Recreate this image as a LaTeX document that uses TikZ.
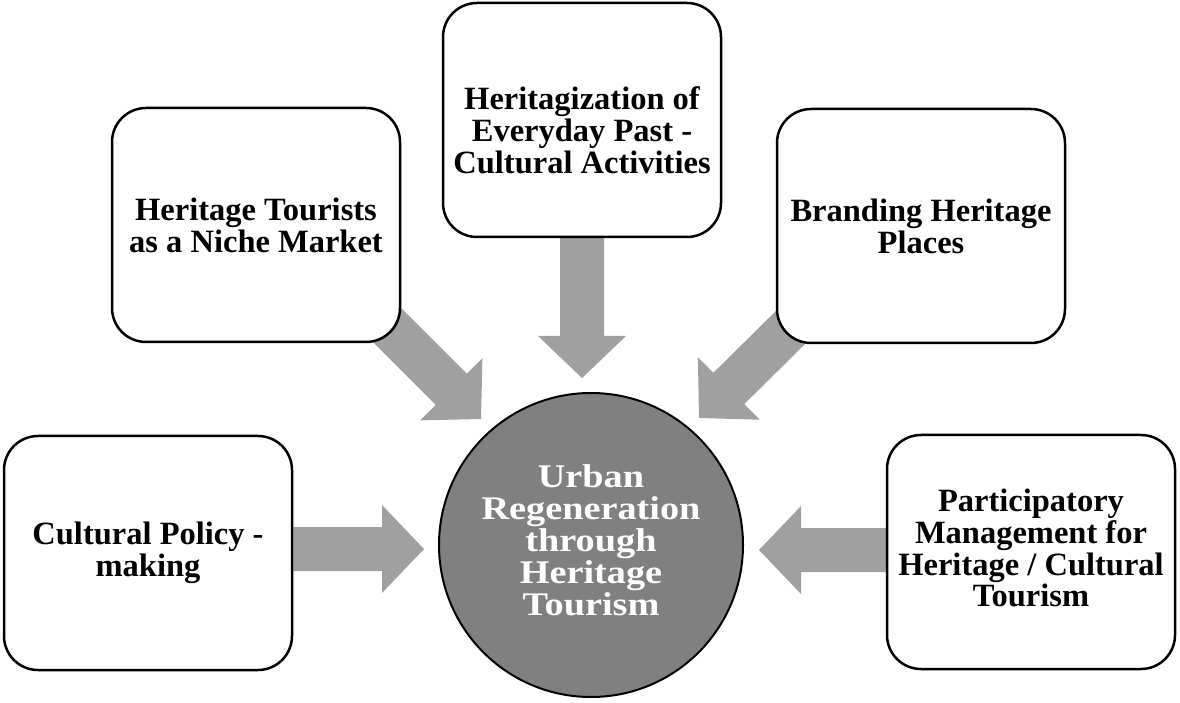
\documentclass[tikz,border=0pt]{standalone}
\usepackage{fontspec}
\setmainfont{Liberation Serif}
\newfontfamily\circfont{Liberation Serif}[FakeStretch=1.16]
\usetikzlibrary{calc}
\pgfdeclarelayer{background}
\pgfsetlayers{background,main}
\definecolor{arrowgray}{RGB}{160,160,160}
\definecolor{hubgray}{RGB}{128,128,128}
\newcommand\blockarrow[2]{%
  \coordinate (ba-h) at ($(#2)!42pt!(#1)$);
  \fill[arrowgray] (#2) -- ($(ba-h)!44pt!90:(#2)$) -- ($(ba-h)!22pt!90:(#2)$)
    -- ($(#1)!22pt!90:(#2)$) -- ($(#1)!22pt!-90:(#2)$)
    -- ($(ba-h)!22pt!-90:(#2)$) -- ($(ba-h)!44pt!-90:(#2)$) -- cycle;}
\begin{document}
\begin{tikzpicture}[x=1pt,y=1pt,
  box/.style={draw=black, line width=2.5pt, rounded corners=34pt, fill=white,
    minimum width=288pt, minimum height=234pt, align=center, inner sep=0pt,
    font=\fontsize{32.5}{31.8}\selectfont\bfseries},
  hub/.style={circle, draw=black, line width=2pt, fill=hubgray, minimum size=304pt,
    inner sep=0pt, align=center, text=white,
    font=\circfont\fontsize{33}{32.2}\selectfont\bfseries}]
\useasboundingbox (0,0) rectangle (1180,702);
\node[box, minimum width=278pt] (top) at (582,582) {\rule{0pt}{43pt}Heritagization of\\Everyday Past -\\Cultural Activities};
\node[box] (lu) at (256,477) {Heritage Tourists\\as a Niche Market};
\node[box] (ru) at (921,476) {Branding Heritage\\Places};
\node[box] (lb) at (148,149) {Cultural Policy -\\making};
\node[box] (rb) at (1031,150) {Participatory\\Management for\\Heritage / Cultural\\Tourism\rule[-8pt]{0pt}{8pt}};
\node[hub] (hub) at (591,157) {Urban\\Regeneration\\through\\Heritage\\Tourism\rule[-10pt]{0pt}{10pt}};
\coordinate (ltip) at (424,153);
\coordinate (rtip) at (759,152);
\coordinate (ttip) at (582,324);
\coordinate (lutip) at (481,283);
\coordinate (rutip) at (699,284);
\coordinate (lu-s) at ($(lu.south east)+(-20,24)$);
\coordinate (ru-s) at ($(ru.south west)+(23,25)$);
\begin{pgfonlayer}{background}
\blockarrow{lb.east |- ltip}{ltip}
\blockarrow{rb.west |- rtip}{rtip}
\blockarrow{top.south}{ttip}
\blockarrow{lu-s}{lutip}
\blockarrow{ru-s}{rutip}
\end{pgfonlayer}
\end{tikzpicture}
\end{document}
